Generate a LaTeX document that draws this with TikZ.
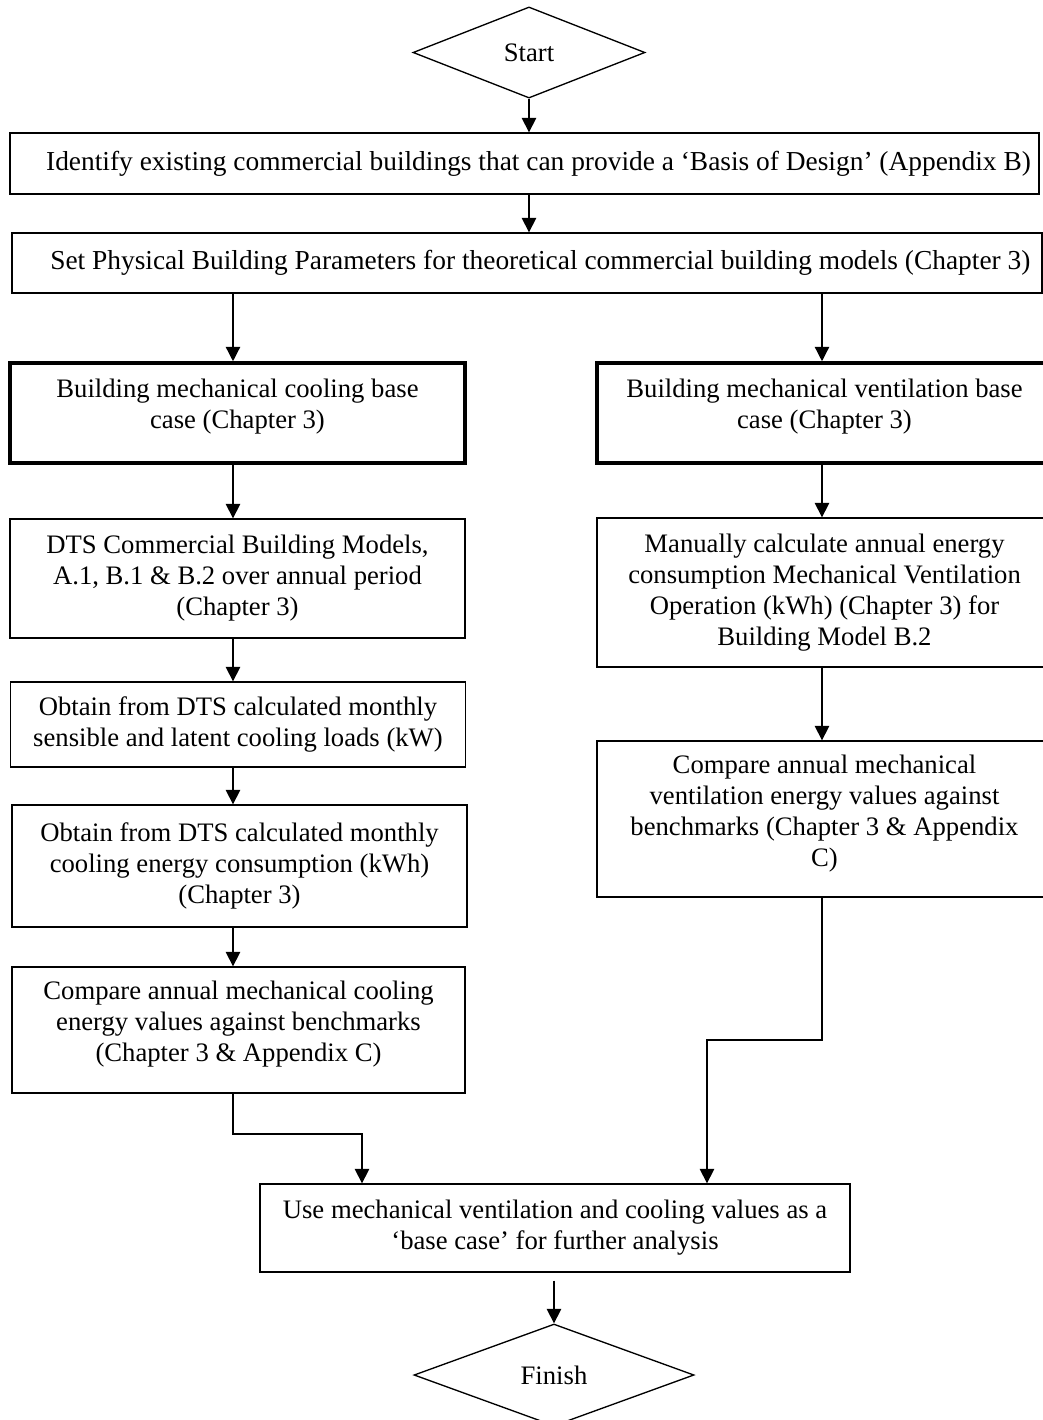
\documentclass[tikz,border=0pt]{standalone}
\usepackage{fontspec}
\setmainfont{Liberation Serif}
\usetikzlibrary{shapes.geometric,arrows.meta}
\begin{document}
\begin{tikzpicture}[x=0.45pt,y=-0.45pt,
  txt/.style={font=\fontsize{12}{13.95}\selectfont},
  widetxt/.style={font=\fontsize{12.33}{13.95}\selectfont},
  box/.style={txt,draw,line width=0.6pt,inner sep=0pt,align=center},
  thickbox/.style={box,line width=1.6pt},
  terminal/.style={txt,diamond,draw,line width=0.6pt,inner sep=0pt},
  flowarrow/.style={line width=0.6pt,-{Triangle[length=6.5pt,width=6.5pt]}},
  flowline/.style={line width=0.6pt}]
\useasboundingbox (0,0) rectangle (1043,1420);
\clip (0,0) rectangle (1043,1420);

% terminals
\node[terminal,minimum width=104.4pt,minimum height=41pt] (start) at (529,52.5) {Start};
\node[terminal,minimum width=126pt,minimum height=45.9pt] (finish) at (554,1375) {Finish};

% common steps
\node[box,widetxt,minimum width=463pt,minimum height=27.45pt] (b1) at (524.5,163.5)
  {\hspace*{12.6pt}Identify existing commercial buildings that can provide a ‘Basis of Design’ (Appendix B)};
\node[box,widetxt,minimum width=463.5pt,minimum height=27pt] (b2) at (527,263)
  {\hspace*{12pt}Set Physical Building Parameters for theoretical commercial building models (Chapter 3)};

% cooling branch
\node[thickbox,minimum width=204.75pt,minimum height=45pt] (cool) at (237.5,413)
  {Building mechanical cooling base\\case (Chapter 3)\rule[-8.4pt]{0pt}{8.4pt}};
\node[box,minimum width=204.75pt,minimum height=53.55pt] (l1) at (237.5,578.5)
  {DTS Commercial Building Models,\\A.1, B.1 \& B.2 over annual period\\(Chapter 3)};
\node[box,minimum width=205pt,minimum height=38.25pt] (l2) at (238,724.5)
  {Obtain from DTS calculated monthly\\sensible and latent cooling loads (kW)};
\node[box,minimum width=204.75pt,minimum height=54.9pt] (l3) at (239.5,866)
  {Obtain from DTS calculated monthly\\cooling energy consumption (kWh)\\(Chapter 3)};
\node[box,minimum width=203.85pt,minimum height=56.7pt] (l4) at (238.5,1030)
  {Compare annual mechanical cooling\\energy values against benchmarks\\(Chapter 3 \& Appendix C)\rule[-7.5pt]{0pt}{7.5pt}};

% ventilation branch
\node[thickbox,minimum width=204.75pt,minimum height=45pt] (vent) at (824.5,413)
  {Building mechanical ventilation base\\case (Chapter 3)\rule[-8.4pt]{0pt}{8.4pt}};
\node[box,minimum width=204.75pt,minimum height=67.05pt] (r1) at (824.5,592.5)
  {Manually calculate annual energy\\consumption Mechanical Ventilation\\Operation (kWh) (Chapter 3) for\\Building Model B.2};
\node[box,minimum width=204.75pt,minimum height=70.2pt] (r2) at (824.5,819)
  {Compare annual mechanical\\ventilation energy values against\\benchmarks (Chapter 3 \& Appendix\\C)\rule[-7pt]{0pt}{7pt}};

% result
\node[box,minimum width=265.5pt,minimum height=39.6pt] (final) at (555,1228)
  {Use mechanical ventilation and cooling values as a\\‘base case’ for further analysis};

% connector columns and joints
\coordinate (lx) at (233,0);
\coordinate (rx) at (822,0);
\coordinate (ljoin) at (362,1134);
\coordinate (rjoin) at (707,1040);

\draw[flowarrow] (start.south) -- (start.south |- b1.north);
\draw[flowarrow] (b1.south -| start.south) -- (b2.north -| start.south);
\draw[flowarrow] (b2.south -| lx) -- (cool.north -| lx);
\draw[flowarrow] (b2.south -| rx) -- (vent.north -| rx);

\draw[flowarrow] (cool.south -| lx) -- (l1.north -| lx);
\draw[flowarrow] (l1.south -| lx) -- (l2.north -| lx);
\draw[flowarrow] (l2.south -| lx) -- (l3.north -| lx);
\draw[flowarrow] (l3.south -| lx) -- (l4.north -| lx);

\draw[flowarrow] (vent.south -| rx) -- (r1.north -| rx);
\draw[flowarrow] (r1.south -| rx) -- (r2.north -| rx);

\draw[flowarrow] (l4.south -| lx) |- (ljoin) -- (final.north -| ljoin);
\draw[flowarrow] (r2.south -| rx) |- (rjoin) -- (final.north -| rjoin);

\draw[flowarrow,shorten <=3.6pt] (final.south -| finish.north) -- (finish.north);
\end{tikzpicture}
\end{document}
